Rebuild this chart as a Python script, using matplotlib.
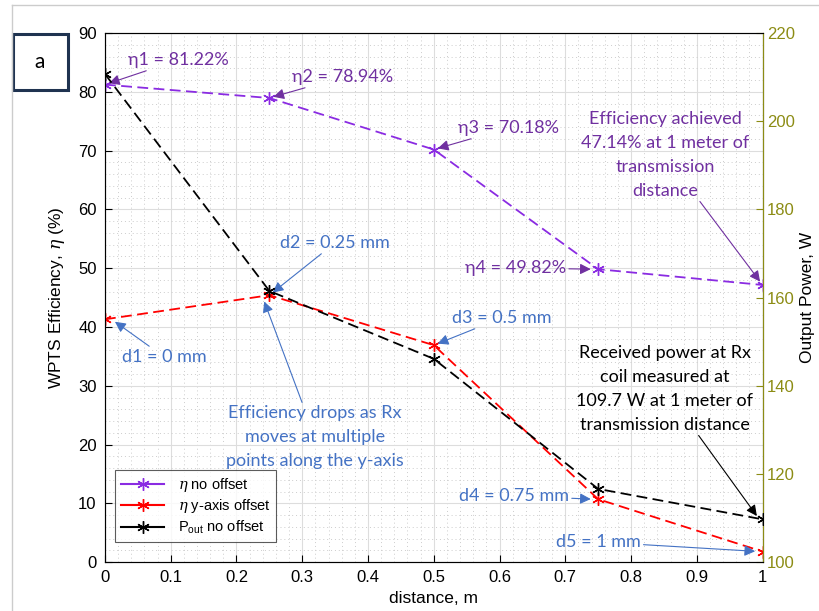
import matplotlib.pyplot as plt
from matplotlib.lines import Line2D
from matplotlib.patches import Rectangle
from matplotlib.ticker import MultipleLocator

# DATA
distance = [0, 0.25, 0.5, 0.75, 1.0]
eta_no_offset = [81.22, 78.94, 70.18, 49.82, 47.14]
eta_y_offset = [41.3, 45.4, 36.9, 10.7, 1.8]
p_out = [210.7, 161.5, 146.1, 116.6, 109.7]

x_ticks = [0, 0.1, 0.2, 0.3, 0.4, 0.5, 0.6, 0.7, 0.8, 0.9, 1]
x_ticklabels = ['0', '0.1', '0.2', '0.3', '0.4', '0.5', '0.6', '0.7', '0.8', '0.9', '1']

# STYLE
plt.rcParams['font.family'] = ['Liberation Sans', 'DejaVu Sans']
plt.rcParams['mathtext.fontset'] = 'custom'
plt.rcParams['mathtext.rm'] = 'Liberation Sans'
plt.rcParams['mathtext.it'] = 'DejaVu Serif:italic'
note_font = ['Lato', 'DejaVu Sans']
purple = '#8a2be2'
purple_txt = '#7030a0'
blue_txt = '#4472c4'
olive = '#8c8c14'
star = (6, 2, 0)
dash = (6, 3)

fig = plt.figure(figsize=(8.2, 6.11), dpi=100)
ax = fig.add_axes([0.128, 0.080, 0.802, 0.866])
ax2 = ax.twinx()

ax.plot(distance, eta_no_offset, color=purple, ls='--', dashes=dash, lw=1.3,
        marker=star, ms=9, mew=1.0, zorder=3)
ax.plot(distance, eta_y_offset, color='red', ls='--', dashes=dash, lw=1.3,
        marker=star, ms=9, mew=1.0, zorder=3)
ax2.plot(distance, p_out, color='black', ls='--', dashes=dash, lw=1.3,
         marker=star, ms=9, mew=1.0, zorder=3)

ax.set_xlim(0, 1)
ax.set_ylim(0, 90)
ax2.set_ylim(100, 220)
ax.set_xticks(x_ticks)
ax.set_xticklabels(x_ticklabels)
ax.set_yticks(range(0, 91, 10))
ax2.set_yticks(range(100, 221, 20))
ax.xaxis.set_minor_locator(MultipleLocator(0.02))
ax.yaxis.set_minor_locator(MultipleLocator(2))
ax.grid(which='major', color='#dddddd', lw=0.8)
ax.grid(which='minor', color='#cccccc', lw=0.7, ls=(0, (1, 3)))
ax.tick_params(which='minor', length=0)
ax.tick_params(which='major', direction='in', labelsize=12, length=5, pad=6)
ax2.tick_params(which='major', direction='in', labelsize=12, length=5,
                colors=olive, pad=3)
ax2.spines['right'].set_color(olive)
for sp in ['left', 'bottom', 'top']:
    ax.spines[sp].set_color('#555555')
ax.set_xlabel('distance, m', fontsize=12.5, labelpad=4)
ax.set_ylabel(r'WPTS Efficiency, $\eta$ (%)', fontsize=12.5, labelpad=8)
ax2.set_ylabel('Output Power, W', fontsize=12.5, color='black', labelpad=4)

# legend
handles = [
    Line2D([], [], color=purple, marker=star, ms=9, mew=1.0),
    Line2D([], [], color='red', marker=star, ms=9, mew=1.0),
    Line2D([], [], color='black', marker=star, ms=9, mew=1.0),
]
labels = [r'$\eta$ no offset', r'$\eta$ y-axis offset', r'P$_\mathrm{out}$ no offset']
leg = ax.legend(handles, labels, loc='lower left', bbox_to_anchor=(0.004, 0.024),
                fontsize=10.5, frameon=True, fancybox=False, edgecolor='#333333',
                handlelength=3.0, borderpad=0.4, labelspacing=0.25,
                handletextpad=0.9)
leg.get_frame().set_linewidth(0.8)
leg.set_zorder(5)

# annotations
def note(text, xy, xytext, color, axis=ax, ha='left', va='center', size=13):
    axis.annotate(text, xy=xy, xytext=xytext, textcoords='figure pixels',
                  fontsize=size, color=color, family=note_font, ha=ha, va=va,
                  multialignment='center', linespacing=1.6,
                  arrowprops=dict(arrowstyle='-|>', color=color, lw=0.8,
                                  mutation_scale=16, shrinkA=0, shrinkB=3),
                  zorder=6)

note('η1 = 81.22%', (0, 81.22), (128, 551), purple_txt)
note('η2 = 78.94%', (0.25, 78.94), (292, 534), purple_txt)
note('η3 = 70.18%', (0.5, 70.18), (458, 483), purple_txt)
note('η4 = 49.82%', (0.745, 49.82), (465, 343), purple_txt)
note('Efficiency achieved\n47.14% at 1 meter of\ntransmission\ndistance',
     (1, 47.14), (665, 456), purple_txt, ha='center')
note('d1 = 0 mm', (0.01, 41.3), (122, 254), blue_txt)
note('d2 = 0.25 mm', (0.25, 45.4), (280, 368), blue_txt)
note('d3 = 0.5 mm', (0.5, 36.9), (452, 293), blue_txt)
note('Efficiency drops as Rx\nmoves at multiple\npoints along the y-axis',
     (0.24, 45.0), (315, 174), blue_txt, ha='center')
note('d4 = 0.75 mm', (0.745, 10.7), (459, 115), blue_txt)
note('d5 = 1 mm', (0.995, 1.8), (556, 69), blue_txt)
note('Received power at Rx\ncoil measured at\n109.7 W at 1 meter of\ntransmission distance',
     (0.995, 109.7), (665, 222), 'black', axis=ax2, ha='center')

# panel label box
fig.patches.append(Rectangle((13 / 820, 1 - 90 / 611), 55 / 820, 56 / 611,
                             transform=fig.transFigure, fill=False,
                             edgecolor='#1f3350', lw=2.2))
fig.text(40 / 820, 1 - 62 / 611, 'a', fontsize=15, ha='center', va='center',
         family=note_font)

# outer frame lines
fig.add_artist(Line2D([12 / 820, 12 / 820], [0, 1 - 5 / 611],
                      transform=fig.transFigure, color='#cccccc', lw=1))
fig.add_artist(Line2D([12 / 820, 1], [1 - 5 / 611, 1 - 5 / 611],
                      transform=fig.transFigure, color='#cccccc', lw=1))

fig.savefig('out.png', dpi=100)
